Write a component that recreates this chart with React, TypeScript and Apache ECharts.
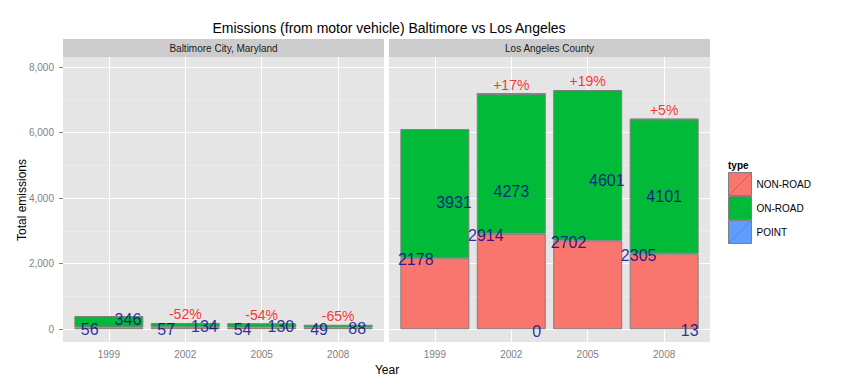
import React, { useEffect, useRef } from "react";
import * as echarts from "echarts";

// ---------- data ----------
const years = ["1999", "2002", "2005", "2008"];
const panels = ["Baltimore City, Maryland", "Los Angeles County"];
const types = ["NON-ROAD", "ON-ROAD", "POINT"];
const typeColors = ["#F8766D", "#00BA38", "#619CFF"];

const baltNonRoad = [56, 57, 54, 49];
const baltOnRoad = [346, 134, 130, 88];
const baltPoint: (number | null)[] = [null, null, null, null];
const baltChange = ["", "-52%", "-54%", "-65%"];

const laNonRoad = [2178, 2914, 2702, 2305];
const laOnRoad = [3931, 4273, 4601, 4101];
const laPoint: (number | null)[] = [null, 0, null, 13];
const laChange = ["", "+17%", "+19%", "+5%"];

const yTicks = [0, 2000, 4000, 6000, 8000];
const yMinorTicks = [1000, 3000, 5000, 7000];

const titleText = "Emissions (from motor vehicle) Baltimore vs Los Angeles";
const xTitle = "Year";
const yTitle = "Total emissions";
const legendTitle = "type";

// ---------- styles ----------
const FONT = "'Liberation Sans', Arial, sans-serif";
const GRID_TOP = 57;
const GRID_H = 285;
const GRID_W = 321;
const GRID_LEFTS = [63, 389];
const Y_MIN = -390;
const Y_MAX = 8310;
const X_MIN = 0.4;
const X_MAX = 4.6;
const DODGE_WIDTH = 1;

const panelData = [
  { values: [baltNonRoad, baltOnRoad, baltPoint], change: baltChange },
  { values: [laNonRoad, laOnRoad, laPoint], change: laChange },
];

function buildOption() {
  const series: any[] = [];
  panelData.forEach((pd, p) => {
    // stacked bars (value column first so that it is the stacked dimension)
    types.forEach((t, k) => {
      series.push({
        type: "bar",
        name: t,
        stack: "stack" + p,
        xAxisIndex: p,
        yAxisIndex: p,
        barWidth: 69,
        z: 2,
        encode: { x: 1, y: 0 },
        data: pd.values[k].map((v, i) => [v == null ? "-" : v, i + 1]),
        itemStyle: { color: typeColors[k], borderColor: "#7F7F7F", borderWidth: 1 },
        emphasis: { disabled: true },
      });
    });
    // dodged value labels
    const labelData: any[] = [];
    years.forEach((_, i) => {
      const present = types
        .map((_t, k) => k)
        .filter((k) => pd.values[k][i] != null);
      const n = present.length;
      present.forEach((k, j) => {
        const x = i + 1 + (j - (n - 1) / 2) * (DODGE_WIDTH / n);
        labelData.push([x, pd.values[k][i], String(pd.values[k][i])]);
      });
    });
    series.push({
      type: "scatter",
      xAxisIndex: p,
      yAxisIndex: p,
      symbolSize: 1,
      z: 4,
      silent: true,
      itemStyle: { color: "rgba(0,0,0,0)" },
      data: labelData,
      label: {
        show: true,
        position: "inside",
        offset: [0, 2],
        formatter: (prm: any) => prm.value[2],
        color: "#00008B",
        fontSize: 16,
        fontFamily: FONT,
      },
      emphasis: { disabled: true },
    });
    // percent change labels + grid lines
    const pctData: any[] = [];
    years.forEach((_, i) => {
      if (!pd.change[i]) return;
      const total = pd.values.reduce((s, arr) => s + (arr[i] ?? 0), 0);
      pctData.push([i + 1, total, pd.change[i]]);
    });
    const white = { color: "#FFFFFF", width: 1, type: "solid" };
    const minor = { color: "#F2F2F2", width: 0.5, type: "solid" };
    series.push({
      type: "scatter",
      xAxisIndex: p,
      yAxisIndex: p,
      symbolSize: 1,
      z: 4,
      silent: true,
      itemStyle: { color: "rgba(0,0,0,0)" },
      data: pctData,
      label: {
        show: true,
        position: "top",
        distance: 1,
        formatter: (prm: any) => prm.value[2],
        color: "#FF0000",
        fontSize: 14,
        fontFamily: FONT,
      },
      emphasis: { disabled: true },
      markLine: {
        silent: true,
        z: 1,
        symbol: "none",
        animation: false,
        label: { show: false },
        emphasis: { disabled: true },
        data: [
          ...yMinorTicks.map((v) => ({ yAxis: v, lineStyle: minor })),
          ...yTicks.map((v) => ({ yAxis: v, lineStyle: white })),
          ...years.map((_, i) => ({ xAxis: i + 1, lineStyle: white })),
        ],
      },
    });
  });

  const graphic: any[] = [
    {
      type: "text",
      x: 389,
      y: 28,
      style: {
        text: titleText,
        fontSize: 14,
        fontFamily: FONT,
        fill: "#000",
        align: "center",
        verticalAlign: "middle",
      },
    },
    {
      type: "text",
      x: 387,
      y: 370,
      style: {
        text: xTitle,
        fontSize: 12,
        fontFamily: FONT,
        fill: "#000",
        align: "center",
        verticalAlign: "middle",
      },
    },
    {
      type: "text",
      x: 22,
      y: 200,
      rotation: Math.PI / 2,
      style: {
        text: yTitle,
        fontSize: 12,
        fontFamily: FONT,
        fill: "#000",
        align: "center",
        verticalAlign: "middle",
      },
    },
    {
      type: "text",
      x: 728,
      y: 165,
      style: {
        text: legendTitle,
        fontSize: 10,
        fontWeight: "bold",
        fontFamily: FONT,
        fill: "#000",
        align: "left",
        verticalAlign: "middle",
      },
    },
  ];
  panels.forEach((name, p) => {
    graphic.push({
      type: "rect",
      shape: { x: GRID_LEFTS[p], y: 39, width: GRID_W, height: 18 },
      style: { fill: "#CCCCCC" },
    });
    graphic.push({
      type: "text",
      x: GRID_LEFTS[p] + GRID_W / 2,
      y: 48,
      style: {
        text: name,
        fontSize: 10,
        fontFamily: FONT,
        fill: "#1A1A1A",
        align: "center",
        verticalAlign: "middle",
      },
    });
  });

  return {
    animation: false,
    backgroundColor: "#FFFFFF",
    grid: GRID_LEFTS.map((l) => ({
      left: l,
      top: GRID_TOP,
      width: GRID_W,
      height: GRID_H,
      show: true,
      backgroundColor: "#E5E5E5",
      borderWidth: 0,
      containLabel: false,
    })),
    xAxis: GRID_LEFTS.map((_, p) => ({
      type: "value",
      gridIndex: p,
      min: X_MIN,
      max: X_MAX,
      axisLine: { show: false },
      splitLine: { show: false },
      axisTick: {
        show: true,
        customValues: [1, 2, 3, 4],
        length: 4,
        lineStyle: { color: "#7F7F7F", width: 1 },
      },
      axisLabel: {
        customValues: [1, 2, 3, 4],
        formatter: (v: number) => years[Math.round(v) - 1] ?? "",
        color: "#7F7F7F",
        fontSize: 10,
        fontFamily: FONT,
        margin: 7,
      },
    })),
    yAxis: GRID_LEFTS.map((_, p) => ({
      type: "value",
      gridIndex: p,
      min: Y_MIN,
      max: Y_MAX,
      axisLine: { show: false },
      splitLine: { show: false },
      axisTick: {
        show: p === 0,
        customValues: yTicks,
        length: 4,
        lineStyle: { color: "#7F7F7F", width: 1 },
      },
      axisLabel: {
        show: p === 0,
        customValues: yTicks,
        formatter: (v: number) => v.toLocaleString("en-US"),
        color: "#7F7F7F",
        fontSize: 10,
        fontFamily: FONT,
        margin: 9,
      },
    })),
    legend: {
      orient: "vertical",
      left: 728,
      top: 172,
      padding: 0,
      itemWidth: 23,
      itemHeight: 23,
      itemGap: 0,
      selectedMode: false,
      icon: "path://M0,0 L23,0 L23,23 L0,23 Z M0,23 L23,0",
      itemStyle: { borderColor: "#7F7F7F", borderWidth: 1 },
      textStyle: { fontSize: 10, color: "#000", fontFamily: FONT },
      data: types,
    },
    graphic,
    series,
  };
}

export default function App() {
  const ref = useRef<HTMLDivElement>(null);
  useEffect(() => {
    if (!ref.current) return;
    const chart = echarts.init(ref.current, undefined, { renderer: "svg" });
    chart.setOption(buildOption() as any);
    return () => chart.dispose();
  }, []);
  return (
    <div
      ref={ref}
      style={{ position: "fixed", left: 0, top: 0, width: 844, height: 388, background: "#fff" }}
    />
  );
}
